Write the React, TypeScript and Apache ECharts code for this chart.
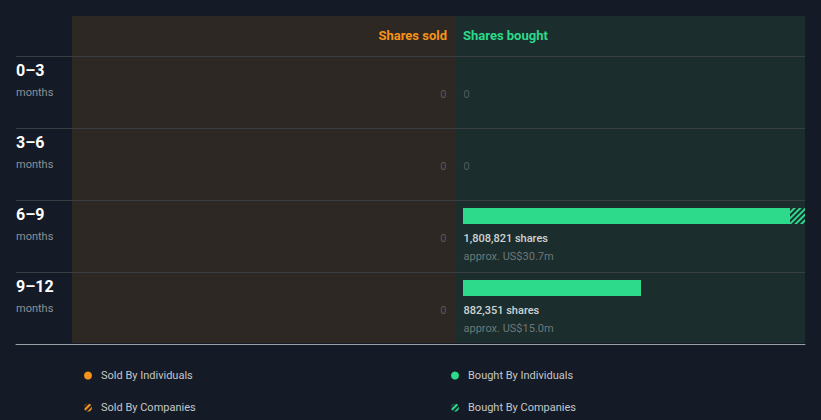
import React, { useEffect, useRef } from "react";
import * as echarts from "echarts";

const categories = ["0–3", "3–6", "6–9", "9–12"];
const soldByIndividuals = [0, 0, 0, 0];
const soldByCompanies = [0, 0, 0, 0];
const boughtByIndividuals = [0, 0, 1621000, 882351];
const boughtByCompanies = [0, 0, 187821, 0];
const boughtValueUSDm = [0, 0, 30.7, 15.0];
const soldValueUSDm = [0, 0, 0, 0];
const boughtAxisMax = 1695300;

const ORANGE = "#f7931a";
const GREEN = "#2dd98b";
const SOLD_BG = "#2d2823";
const BOUGHT_BG = "#1b2e2d";
const FONT = "Roboto, sans-serif";

export default function App() {
  const ref = useRef<HTMLDivElement>(null);
  useEffect(() => {
    if (!ref.current) return;
    const chart = echarts.init(ref.current, undefined, { renderer: "svg" });
    const fmt = (n: number) => n.toLocaleString("en-US");
    const labelData = (ind: number[], comp: number[], usd: number[]) =>
      categories.map((c, i) => {
        const total = ind[i] + comp[i];
        return {
          value: [0, i],
          label: {
            formatter:
              total === 0
                ? "{z|0}\n{b| }"
                : `{a|${fmt(total)} shares}\n{b|approx. US$${usd[i].toFixed(1)}m}`,
          },
        };
      });
    const labelRich = {
      z: { fontSize: 11, color: "#62676a", lineHeight: 18, fontFamily: FONT },
      a: { fontSize: 11, color: "#ffffff", fontWeight: 500, lineHeight: 18, fontFamily: FONT },
      b: { fontSize: 11, color: "#858b8c", lineHeight: 18, fontFamily: FONT },
    };
    const decal = (color: string) => ({
      symbol: "rect",
      symbolSize: 1,
      color,
      dashArrayX: [1, 0],
      dashArrayY: [2, 2],
      rotation: -Math.PI / 4,
    });
    const legendItem = (name: string, left: number, top: number) => ({
      data: [name],
      left,
      top,
      padding: 0,
      icon: "circle",
      itemWidth: 8,
      itemHeight: 8,
      itemGap: 0,
      selectedMode: false,
      textStyle: { color: "#c4c6c9", fontSize: 11, fontFamily: FONT, padding: [0, 0, 0, 4] },
    });
    chart.setOption({
      animation: false,
      backgroundColor: "#151b26",
      textStyle: { fontFamily: FONT },
      graphic: [
        { type: "rect", z: -1, shape: { x: 72, y: 16, width: 383, height: 327 }, style: { fill: SOLD_BG } },
        { type: "rect", z: -1, shape: { x: 455, y: 16, width: 350, height: 327 }, style: { fill: BOUGHT_BG } },
        {
          type: "text",
          x: 447,
          y: 35,
          style: { text: "Shares sold", fill: ORANGE, fontSize: 13, fontWeight: "bold", fontFamily: FONT, align: "right", verticalAlign: "middle" },
        },
        {
          type: "text",
          x: 463,
          y: 35,
          style: { text: "Shares bought", fill: GREEN, fontSize: 13, fontWeight: "bold", fontFamily: FONT, align: "left", verticalAlign: "middle" },
        },
      ],
      legend: [
        legendItem("Sold By Individuals", 84, 370),
        legendItem("Sold By Companies", 84, 402),
        legendItem("Bought By Individuals", 451, 370),
        legendItem("Bought By Companies", 451, 402),
      ],
      grid: [
        { left: 16, right: 16, top: 56, height: 288 },
        { left: 72, right: 374, top: 36, height: 288 },
        { left: 463, right: 16, top: 36, height: 288 },
      ],
      xAxis: [
        {
          gridIndex: 0,
          type: "value",
          min: 0,
          max: 1,
          axisLine: { show: true, lineStyle: { color: "#9a9fa4", width: 1 } },
          axisTick: { show: false },
          axisLabel: { show: false },
          splitLine: { show: false },
        },
        { gridIndex: 1, type: "value", min: 0, max: boughtAxisMax, inverse: true, show: false },
        { gridIndex: 2, type: "value", min: 0, max: boughtAxisMax, show: false },
      ],
      yAxis: [
        {
          gridIndex: 0,
          type: "category",
          data: categories,
          inverse: true,
          axisLine: { show: false },
          axisTick: { show: false },
          splitLine: { show: true, lineStyle: { color: "#3a3e42", width: 1 } },
          axisLabel: {
            align: "left",
            margin: 0,
            formatter: (v: string) => `{t|${v}}\n{m|months}\n{m| }`,
            rich: {
              t: { fontSize: 16, fontWeight: "bold", color: "#ffffff", lineHeight: 22, fontFamily: FONT },
              m: { fontSize: 11, color: "#8b9096", lineHeight: 22, fontFamily: FONT },
            },
          },
        },
        { gridIndex: 1, type: "category", data: categories, inverse: true, show: false },
        { gridIndex: 2, type: "category", data: categories, inverse: true, show: false },
      ],
      series: [
        {
          name: "Sold By Individuals",
          type: "bar",
          xAxisIndex: 1,
          yAxisIndex: 1,
          stack: "sold",
          barWidth: 16,
          data: soldByIndividuals,
          itemStyle: { color: ORANGE },
        },
        {
          name: "Sold By Companies",
          type: "bar",
          xAxisIndex: 1,
          yAxisIndex: 1,
          stack: "sold",
          barWidth: 16,
          data: soldByCompanies,
          itemStyle: { color: SOLD_BG, decal: decal(ORANGE) },
        },
        {
          name: "Bought By Individuals",
          type: "bar",
          xAxisIndex: 2,
          yAxisIndex: 2,
          stack: "bought",
          barWidth: 16,
          data: boughtByIndividuals,
          itemStyle: { color: GREEN },
        },
        {
          name: "Bought By Companies",
          type: "bar",
          xAxisIndex: 2,
          yAxisIndex: 2,
          stack: "bought",
          barWidth: 16,
          clip: true,
          data: boughtByCompanies,
          itemStyle: { color: BOUGHT_BG, decal: decal(GREEN) },
        },
        {
          type: "scatter",
          xAxisIndex: 1,
          yAxisIndex: 1,
          symbolSize: 1,
          itemStyle: { color: "rgba(0,0,0,0)" },
          silent: true,
          label: { show: true, position: "left", distance: 0, offset: [0, 31], align: "right", rich: labelRich },
          data: labelData(soldByIndividuals, soldByCompanies, soldValueUSDm),
        },
        {
          type: "scatter",
          xAxisIndex: 2,
          yAxisIndex: 2,
          symbolSize: 1,
          itemStyle: { color: "rgba(0,0,0,0)" },
          silent: true,
          label: { show: true, position: "right", distance: 0, offset: [0, 31], align: "left", rich: labelRich },
          data: labelData(boughtByIndividuals, boughtByCompanies, boughtValueUSDm),
        },
      ],
    });
    return () => chart.dispose();
  }, []);
  return (
    <div
      ref={ref}
      style={{ position: "fixed", left: 0, top: 0, width: 821, height: 420 }}
    />
  );
}
